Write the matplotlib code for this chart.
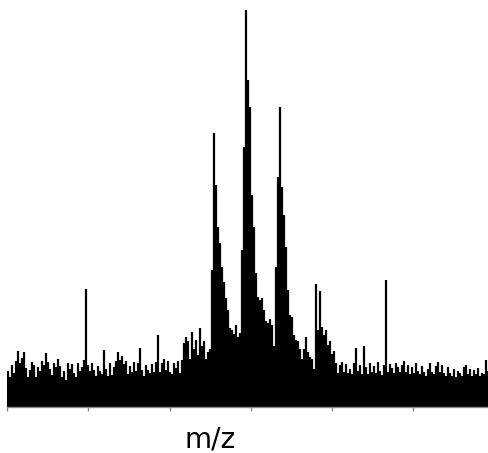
import numpy as np
import matplotlib
matplotlib.use("Agg")
import matplotlib.pyplot as plt

# m/z grid (arbitrary units) and intensities (a.u.)
mz_start = 1.2
mz_step = 2.46
intensity = [
    36, 30, 42, 34, 46, 56, 44, 49, 55, 39, 30, 37, 45, 42, 30, 40, 36, 46, 42, 54,
    45, 38, 32, 44, 40, 48, 41, 30, 36, 27, 44, 38, 43, 34, 30, 44, 36, 40, 47, 118,
    42, 36, 44, 37, 31, 41, 36, 33, 57, 38, 31, 44, 32, 40, 46, 55, 47, 51, 43, 46,
    33, 41, 35, 45, 36, 44, 59, 37, 31, 42, 37, 34, 43, 35, 45, 72, 35, 44, 48, 37,
    46, 35, 33, 44, 39, 46, 34, 47, 64, 70, 66, 48, 75, 58, 67, 52, 79, 61, 66, 48,
    55, 58, 137, 274, 222, 180, 164, 140, 125, 109, 97, 79, 77, 73, 82, 70, 74, 157, 260, 397,
    327, 300, 212, 180, 134, 110, 107, 109, 97, 86, 84, 88, 82, 61, 140, 230, 300, 220, 192, 160,
    117, 92, 90, 72, 67, 66, 58, 48, 58, 70, 55, 50, 48, 38, 123, 77, 116, 80, 72, 77,
    62, 66, 53, 56, 44, 34, 42, 45, 35, 43, 34, 38, 33, 44, 59, 36, 42, 33, 61, 40,
    33, 44, 35, 41, 34, 45, 36, 32, 42, 127, 35, 43, 39, 34, 44, 40, 35, 42, 46, 35,
    42, 33, 40, 34, 44, 36, 33, 41, 35, 31, 38, 44, 35, 33, 41, 45, 35, 42, 34, 31,
    40, 34, 31, 38, 30, 36, 34, 31, 40, 42, 33, 38, 31, 37, 33, 39, 31, 34, 33, 47,
    36,
]
mz = mz_start + mz_step * np.arange(len(intensity))
x_ticks = [0, 100, 200, 300, 400, 500]
x_label = "m/z"

W, H = 489, 453
fig = plt.figure(figsize=(W / 100, H / 100), dpi=100)
ax = fig.add_axes([7 / W, (H - 407) / H, 482 / W, 400 / H])
ax.vlines(mz, 0, intensity, colors="black", linewidth=1.6)
ax.set_xlim(0, 593)
ax.set_ylim(0, 400)
ax.set_xticks(x_ticks)
ax.set_xticklabels([])
ax.set_yticks([])
for s in ["top", "right", "left"]:
    ax.spines[s].set_visible(False)
ax.spines["bottom"].set_color("#888888")
ax.spines["bottom"].set_linewidth(1.0)
ax.tick_params(axis="x", direction="out", length=3, color="#888888", width=1)
fig.text(210 / W, 1 - 447 / H, x_label, ha="center", va="baseline",
         fontsize=20, family="DejaVu Sans", color="black")
fig.savefig("out.png", dpi=100)
